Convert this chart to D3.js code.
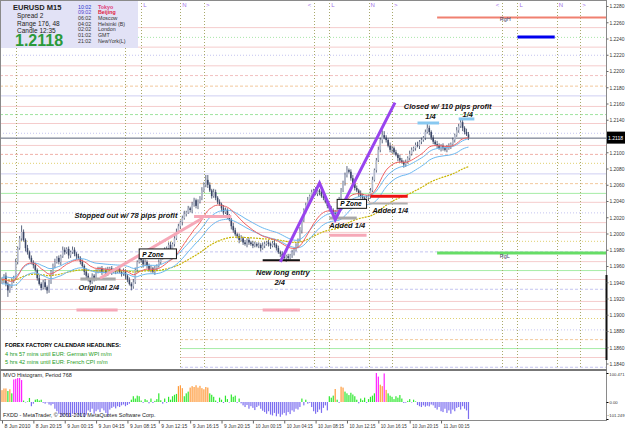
<!DOCTYPE html>
<html>
<head>
<meta charset="utf-8">
<script src="https://cdnjs.cloudflare.com/ajax/libs/d3/7.8.5/d3.min.js"></script>
<style>
  body { margin: 0; background: #fff; }
  svg { display: block; font-family: "Liberation Sans", Arial, sans-serif; }
</style>
</head>
<body>
<svg width="625" height="429"></svg>
<script>
// EURUSD M15, prices in pips (1943 -> 1.1943), one value per bar from 8 Jun 16:15
const closes = [
  1943,1948,1938,1930,1935,1943,1945, 1965,1982,1994,2002, 1992,1982,1977,1970,1965,1961,
  1955,1945,1938,1933,1940,1934,1930, 1940,1953,1960,1965,1970,1965,1972,
  1980,1977,1981,1973,1977,1980,1975,1972,1970,1965, 1960,1953,1948,1943,1940,1948,1945,1953,
  1955,1957,1953,1955,1950,1955,1957,1953,1955,1953,1957,1953,1950,1953,1948,
  1943,1938,1935,1940, 1955,1965,1970,1967,1962,1965,1960, 1955,1957,1953,1957,1960,1965,1970,
  1975,1980,1982,1986,1980,1987,1994,2002, 2009,2014,2019,2024,2026,2031,2029,
  2035,2041,2034,2039,2044,2053,2060, 2066,2060,2053, 2046,2051,2044,2039,2036,
  2031,2026,2029,2021,2017,2009,2004, 1999,1997,1992,1994,1989,1987,1992,
  1989,1987,1985,1987,1985,1986,1982,1985, 1987,1989,1987,1985,1988,1986,1982,
  1977,1975,1972,1970,1972,1970,1973,1977,1980,1985, 1992,2004,2017,2029,2035,2041,2046,
  2051,2053,2049,2053,2051,2046,2044, 2039,2034,2031,2029,2026,2024,2029,
  2041,2053,2063,2072,2078,2076, 2068,2061,2056,2053,2049,2046,2044,2041,2044,2046,
  2053,2066,2078,2090,2103,2115,2121, 2118,2115,2108,2103,2105,2100,
  2097,2093,2090,2088,2085,2088,2093, 2098,2103,2105,2109,2108,2113,2115,2118,2125,2130,
  2125,2118,2113,2110,2108,2105,2108,2105,2103,2105,2108,2110,
  2115,2121,2127,2132,2137,2130,2125,2122,2118
];
const firstOpen = 1940;
// wick lengths in pips above / below the body
const upWick = [
  3,2,4,2,3,2,3,4,2,3, 8,3,2,4,2,3,2,3,2,4, 2,3,4,2,3,2,3,4,2,3, 2,4,3,2,3,2,4,3,2,3,
  2,3,2,4,3,2,3,2,3,4, 2,3,2,3,4,2,3,2,3,2, 3,2,4,3,2,3,2,4,3,2, 3,4,2,3,2,3,4,2,3,2,
  3,2,4,3,2,3,4,2,3,4, 3,2,3,4,2,3,2,4,3,2, 3,2,4,3,6,6,3,2,4,3, 2,3,2,4,3,2,3,2,4,3,
  2,3,4,2,3,2,3,2,4,3, 2,3,2,4,3,2,3,2,3,4, 2,3,2,3,4,2,3,2,3,2, 3,2,4,3,2,3,4,2,3,2,
  4,3,2,3,2,4,3,2,3,2, 3,2,4,3,2,3,5,2,3,4, 2,3,2,4,3,2,3,2,3,4, 2,3,4,3,6,5,3,2,4,3,
  2,3,2,4,3,2,3,2,4,3, 2,3,4,2,3,2,3,7,3,2, 3,2,4,3,2,3,2,4,3,2, 3,2,4,3,4,3,2,4,3
];
const lowWick = [
  2,4,3,8,3,2,4,2,3,2, 3,2,4,3,2,3,4,2,3,2, 3,2,3,4,3,2,4,3,2,3, 4,2,3,2,4,3,2,3,4,2,
  3,2,4,3,2,3,2,4,3,2, 3,4,2,3,2,3,4,2,3,2, 2,3,2,4,3,2,5,3,2,3, 2,3,4,2,3,2,3,2,4,3,
  2,3,2,3,4,2,3,2,3,2, 2,3,4,2,3,2,3,4,2,3, 4,2,3,2,3,4,2,3,2,3, 3,2,4,3,2,3,2,4,3,2,
  3,4,2,3,2,4,3,2,3,2, 2,3,4,2,3,2,3,4,2,3, 3,2,4,3,2,5,3,2,3,4, 2,3,2,4,3,2,3,2,4,3,
  2,3,4,2,3,2,3,4,2,3, 3,5,2,3,2,4,3,2,3,2, 3,2,4,3,2,3,2,4,3,2, 2,3,2,3,4,2,3,2,3,4,
  3,2,4,3,2,4,3,2,3,2, 2,3,2,4,3,2,3,2,4,3, 3,2,3,2,4,3,2,3,2,4, 2,3,2,3,2,4,3,2,3
];
// MVO histogram, Period 768
const mvo = [
  41,47,47,38,44,30,78,80,83,83, 76,5,-3,2,14,-25,-10,8,10,5, 8,-5,-10,-3,-15,-20,-12,-40,-55,-70,
  -80,-85,-75,-80,-90,-85,-70,-75,-65,-80, -85,-70,-90,-75,-50,-60,-40,-70,-55,-45,
  -60,-38,-50,-65,-85,-45,-35,-28,-38,-25, -30,-20,-15,-25,-18,-10,8,20,12,22,
  20,5,-5,10,6,-8,12,-6,4,10, 30,6,-10,12,-5,18,8,20,25,28, 55,58,48,20,30,36,50,55,52,58,
  50,56,48,44,52,50,30,25,18,5, -4,15,8,-6,22,10,-3,26,18,22, -5,12,-8,-20,-30,-18,-40,-25,-35,-48,
  -30,-22,-40,-52,-60,-70,-55,-75,-80,-65, -85,-70,-88,-75,-65,-80,-60,-72,-50,-58,
  -40,-45,-30,12,-20,8,-10,-5,-30,-55, -70,-60,-45,-65,-35,-20,-50,20,15,22,
  45,8,-5,53,50,36,30,24,32,26, 20,8,-8,12,6,15,-5,10,18,22, 30,100.471,88,60,55,99,42,30,22,18,
  10,20,15,24,12,-6,-4,4,10,-3, 8,2,-18,-25,-30,-20,-28,-22,-26,-15,
  -20,-35,-45,-30,-55,-60,-40,-65,-50,-70, -45,-55,-35,-30,-45,-25,-40,-50,-101.249
];

const yTicks = [2280,2260,2240,2220,2200,2180,2160,2140,2100,2080,2060,2040,2020,2000,
  1980,1960,1940,1920,1900,1880,1860,1840];
const indTicks = [100.471, 0, -101.249];
const xTickTimes = [
  "2010-06-08 16:15","2010-06-08 20:15","2010-06-09 00:15","2010-06-09 04:15","2010-06-09 08:15",
  "2010-06-09 12:15","2010-06-09 16:15","2010-06-09 20:15","2010-06-10 00:15","2010-06-10 04:15",
  "2010-06-10 08:15","2010-06-10 12:15","2010-06-10 16:15","2010-06-10 20:15","2010-06-11 00:15"
];
const sessionTimes = [
  "2010-06-08 18:00","2010-06-09 08:00","2010-06-09 10:00","2010-06-09 15:00","2010-06-09 18:00",
  "2010-06-10 08:00","2010-06-10 10:00","2010-06-10 15:00","2010-06-10 18:00",
  "2010-06-11 08:00","2010-06-11 10:00","2010-06-11 15:00","2010-06-11 18:00"
];
const sessionMarks = [">","<","L","N",">","<","L","N",">","<","L","N",">"];

// horizontal levels across the chart (pips) and their kind
const levelPrices = [2254,2242,2230,2220,2207,2195,2182,2170,2157,2147,2136,2124,2109,2098,2087,2074,
  2062,2050,2039,2026,2014,2002,1991,1978,1966,1955,1944,1932,1917,1907,1896,1882,1870,1859,1848,1836];
const levelKinds = ["pink","greenDot","pink","lavDot","pink","pinkDash","orangeDash","lav","pink","greenDash",
  "pink","lavDot","pink","salmonDash","yellowDot","lav","orangeDash","green","pink","lavDot","pink","pink",
  "yellowDot","lavDash","pink","green","pink","lavDash","pink","pink","yellowDot","lavDot","orangeDash",
  "green","pink","lavDash"];

const lastPrice = 2118;

const levelStyle = {
  pink: ["#f5cccc", null], pinkDash: ["#f2c0c0", "3,2"], green: ["#a6eca6", null],
  greenDot: ["#a8e6a8", "1,2"], greenDash: ["#a0e4a0", "3,2"], lav: ["#cfcff2", null],
  lavDot: ["#c4c4f0", "1,2"], lavDash: ["#c4c4f0", "3,2"], orangeDash: ["#f2c89c", "3,2"],
  salmonDash: ["#f0b0a8", "3,2"], yellowDot: ["#e0d070", "1,2"]
};

const svg = d3.select("svg");
const plotR = 606, mainB = 369, indB = 420;
const parse = d3.timeParse("%Y-%m-%d %H:%M");

const x = d3.scaleLinear().domain([0, 1]).range([2, 3.96]);
const xt = d3.scaleTime().domain([parse("2010-06-08 16:15"), parse("2010-06-08 16:30")]).range([2, 3.96]);
const y = d3.scaleLinear().domain([1840, 2280]).range([363.5, 6]);
const yInd = d3.scaleLinear().domain([-101.249, 0, 100.471]).range([419, 402, 373]);
const histColor = d3.scaleThreshold().domain([0, 40, 75]).range(["#7d6ff0", "#2ee82e", "#ff9a3a", "#ff22ff"]);

svg.append("rect").attr("width", 625).attr("height", 429).attr("fill", "#fff");

svg.append("clipPath").attr("id", "mainClip").append("rect")
  .attr("x", 0).attr("y", 0).attr("width", plotR).attr("height", mainB);
const main = svg.append("g").attr("clip-path", "url(#mainClip)");

// levels
main.selectAll("line.level").data(levelPrices).join("line")
  .attr("x1", 0).attr("x2", plotR)
  .attr("y1", d => y(d) + 0.5).attr("y2", d => y(d) + 0.5)
  .attr("stroke", (d, i) => levelStyle[levelKinds[i]][0])
  .attr("stroke-dasharray", (d, i) => levelStyle[levelKinds[i]][1]);

// session separators
const sess = sessionTimes.map(parse);
main.selectAll("line.sess").data(sess).join("line")
  .attr("x1", d => Math.round(xt(d)) + 0.5).attr("x2", d => Math.round(xt(d)) + 0.5)
  .attr("y1", 0).attr("y2", mainB)
  .attr("stroke", "#a8a86a").attr("stroke-dasharray", "1,2");
main.selectAll("text.sess").data(sess.filter(d => xt(d) > 140)).join("text")
  .attr("x", d => xt(d) + (sessionMarks[sess.indexOf(d)] === "<" ? -6 : 2)).attr("y", 7)
  .attr("font-size", 6).attr("fill", "#a070e8")
  .text(d => sessionMarks[sess.indexOf(d)]);

// current price line
main.append("line").attr("x1", 0).attr("x2", plotR)
  .attr("y1", y(lastPrice) + 0.5).attr("y2", y(lastPrice) + 0.5)
  .attr("stroke", "#5a6478");

// candles
const opens = closes.map((c, i) => i ? closes[i - 1] : firstOpen);
const highs = closes.map((c, i) => Math.max(c, opens[i]) + upWick[i]);
const lows = closes.map((c, i) => Math.min(c, opens[i]) - lowWick[i]);

const candles = main.append("g");
candles.selectAll("line").data(closes).join("line")
  .attr("x1", (d, i) => x(i)).attr("x2", (d, i) => x(i))
  .attr("y1", (d, i) => y(highs[i])).attr("y2", (d, i) => y(lows[i]))
  .attr("stroke", "#33405e").attr("stroke-width", 0.8);
candles.selectAll("rect").data(closes).join("rect")
  .attr("x", (d, i) => x(i) - 0.8).attr("width", 1.6)
  .attr("y", (d, i) => y(Math.max(d, opens[i])))
  .attr("height", (d, i) => Math.max(0.8, y(Math.min(d, opens[i])) - y(Math.max(d, opens[i]))))
  .attr("fill", (d, i) => d >= opens[i] ? "#b4bacb" : "#3a4666");

// moving averages
function ema(arr, n) {
  const k = 2 / (n + 1);
  let e = arr[0];
  return arr.map(v => (e = e + k * (v - e)));
}
const line = d3.line().x((d, i) => x(i)).y(d => y(d));
main.append("path").attr("d", line(ema(closes, 89))).attr("fill", "none")
  .attr("stroke", "#c8b400").attr("stroke-width", 1.2).attr("stroke-dasharray", "2,1");
main.append("path").attr("d", line(ema(highs, 34))).attr("fill", "none").attr("stroke", "#6cb8f0");
main.append("path").attr("d", line(ema(lows, 34))).attr("fill", "none").attr("stroke", "#6cb8f0");
main.append("path").attr("d", line(ema(closes, 21))).attr("fill", "none").attr("stroke", "#f06060");

// drawn trade objects: [startBar, endBar, price, colour, width]
const segs = [
  [40, 58, 1944, "#a8a8a8", 3], [38, 59, 1906, "#f6a8b8", 3], [133, 152, 1906, "#f6a8b8", 3],
  [167, 186, 1998, "#f6a8b8", 3], [98, 117, 2021, "#f6a8b8", 3], [167, 181, 2019, "#a8a8a8", 3],
  [187, 207, 2037, "#b0b0b0", 2], [133, 152, 1967, "#111", 2], [188, 207, 2046, "#ee1111", 3],
  [212, 223, 2136, "#88c8f0", 3], [233, 241, 2141, "#88c8f0", 3], [263, 282, 2242, "#0000ee", 3],
  [222, 310, 2266, "#f08070", 2], [222, 310, 1976, "#66dd66", 3]
];
main.selectAll("line.seg").data(segs).join("line")
  .attr("x1", d => x(d[0])).attr("x2", d => x(d[1]))
  .attr("y1", d => y(d[2])).attr("y2", d => y(d[2]))
  .attr("stroke", d => d[3]).attr("stroke-width", d => d[4]);

main.append("line").attr("x1", x(50)).attr("y1", y(1945)).attr("x2", x(102.5)).attr("y2", y(2019))
  .attr("stroke", "#f6a8b8").attr("stroke-width", 3);

const zig = [[142, 1965], [162, 2062], [170, 2017], [200.5, 2161]];
main.append("path").attr("d", d3.line().x(d => x(d[0])).y(d => y(d[1]))(zig))
  .attr("fill", "none").attr("stroke", "#9944ee").attr("stroke-width", 3);

// P Zone boxes: [startBar, endBar, topPrice, bottomPrice]
const zones = [[70, 89, 1981, 1969], [171, 186, 2042, 2031]];
const zg = main.selectAll("g.zone").data(zones).join("g");
zg.append("rect").attr("x", d => x(d[0])).attr("y", d => y(d[2]))
  .attr("width", d => x(d[1]) - x(d[0])).attr("height", d => y(d[3]) - y(d[2]))
  .attr("fill", "#fff").attr("stroke", "#111").attr("stroke-width", 1);
zg.append("text").attr("x", d => x(d[0]) + 3).attr("y", d => y(d[3]) - 2)
  .attr("font-size", 6.5).attr("font-weight", "bold").attr("font-style", "italic").text("P Zone");

main.selectAll("text.tag").data([["RgH", 254, 2262], ["RgL", 254, 1970]]).join("text")
  .attr("x", d => x(d[1])).attr("y", d => y(d[2])).attr("font-size", 5.5).attr("fill", "#446")
  .text(d => d[0]);

// notes: [text, bar, price]
const notes = [
  ["Stopped out w/ 78 pips profit", 37, 2019], ["Original 2/4", 39, 1930],
  ["New long entry", 129.6, 1949], ["2/4", 139, 1937], ["Added 1/4", 167, 2007],
  ["Added 1/4", 189, 2025], ["Closed w/ 110 pips profit", 205, 2153], ["1/4", 216, 2141], ["1/4", 235, 2143]
];
main.selectAll("text.note").data(notes).join("text")
  .attr("x", d => x(d[1])).attr("y", d => y(d[2]))
  .attr("font-size", 7.5).attr("font-weight", "bold").attr("font-style", "italic").attr("fill", "#111")
  .text(d => d[0]);

// info panel
svg.append("rect").attr("x", 0).attr("y", 0).attr("width", 138).attr("height", 48).attr("fill", "#e2e2f6");
const info = svg.append("g").attr("font-size", 6.5).attr("fill", "#222");
info.append("text").attr("x", 13).attr("y", 10).attr("font-weight", "bold").attr("font-size", 7.5).text("EURUSD   M15");
info.append("text").attr("x", 17).attr("y", 18).text("Spread   2");
info.append("text").attr("x", 17).attr("y", 25.5).text("Range    176, 48");
info.append("text").attr("x", 17).attr("y", 32.5).text("Candle   12:35");
info.append("text").attr("x", 15).attr("y", 46).attr("font-weight", "bold").attr("font-size", 16)
  .attr("fill", "#2a9a3a").text("1.2118");
const clocks = [["10:02", "Tokyo", "#2233cc", "#e0407a"], ["09:02", "Beijing", "#5544cc", "#e02040"],
  ["06:02", "Moscow", "#333", "#333"], ["04:02", "Helsinki (B)", "#333", "#333"], ["02:02", "London", "#333", "#333"],
  ["01:02", "GMT", "#333", "#333"], ["21:02", "NewYork(L)", "#333", "#333"]];
clocks.forEach((z, i) => {
  info.append("text").attr("x", 78).attr("y", 8.5 + i * 5.7).attr("font-size", 5.3).attr("fill", z[2]).text(z[0]);
  info.append("text").attr("x", 98).attr("y", 8.5 + i * 5.7).attr("font-size", 5.3).attr("fill", z[3])
    .attr("font-weight", i < 2 ? "bold" : "normal").text(z[1]);
});

// calendar headlines box
svg.append("rect").attr("x", 0).attr("y", 338).attr("width", 180).attr("height", 31).attr("fill", "#fff");
svg.append("text").attr("x", 5).attr("y", 347).attr("font-size", 5.6).attr("font-weight", "bold")
  .text("FOREX FACTORY CALENDAR  HEADLINES:");
svg.append("text").attr("x", 5).attr("y", 356).attr("font-size", 5.6).attr("fill", "#1a9a1a")
  .text("4 hrs 57 mins until EUR: German WPI m/m");
svg.append("text").attr("x", 5).attr("y", 364).attr("font-size", 5.6).attr("fill", "#1a9a1a")
  .text("5 hrs 42 mins until EUR: French CPI m/m");

// histogram
svg.selectAll("rect.h").data(mvo).join("rect")
  .attr("x", (d, i) => x(i) - 0.6).attr("width", 1.2)
  .attr("y", d => Math.min(yInd(d), yInd(0)))
  .attr("height", d => Math.abs(yInd(d) - yInd(0)))
  .attr("fill", d => histColor(d));
svg.append("text").attr("x", 3).attr("y", 377).attr("font-size", 5.5).attr("fill", "#222")
  .text("MVO Histogram, Period 768");
svg.append("text").attr("x", 3).attr("y", 417).attr("font-size", 5.5).attr("fill", "#222")
  .text("FXDD - MetaTrader, \u00a9 2001-2010 MetaQuotes Software Corp.");

// frames
svg.append("rect").attr("x", 0.5).attr("y", 0.5).attr("width", plotR).attr("height", indB)
  .attr("fill", "none").attr("stroke", "#8a8a8a");
svg.append("rect").attr("x", 0).attr("y", mainB).attr("width", plotR + 1).attr("height", 2).attr("fill", "#777");
svg.append("rect").attr("x", plotR - 0.5).attr("y", 275).attr("width", 2).attr("height", 85).attr("fill", "#111");

// price axis
const yAxis = d3.axisRight(y).tickValues(yTicks).tickSize(2)
  .tickFormat(d => (1 + d / 10000).toFixed(4));
const ya = svg.append("g").attr("transform", `translate(${plotR + 0.5},0)`).call(yAxis);
ya.select(".domain").remove();
ya.selectAll("text").attr("font-size", 5.5).attr("fill", "#333").attr("x", 3)
  .attr("textLength", 15).attr("lengthAdjust", "spacingAndGlyphs");
ya.selectAll("line").attr("stroke", "#666");

svg.append("rect").attr("x", plotR + 1).attr("y", y(lastPrice) - 6).attr("width", 18).attr("height", 12).attr("fill", "#000");
svg.append("text").attr("x", plotR + 2).attr("y", y(lastPrice) + 2).attr("font-size", 5.5).attr("fill", "#fff")
  .attr("textLength", 15).attr("lengthAdjust", "spacingAndGlyphs")
  .text((1 + lastPrice / 10000).toFixed(4));

// indicator axis
const indAxis = d3.axisRight(yInd).tickValues(indTicks).tickSize(2)
  .tickFormat(d => d === 0 ? "0.00" : d3.format(".3f")(d));
const ia = svg.append("g").attr("transform", `translate(${plotR + 0.5},0)`).call(indAxis);
ia.select(".domain").remove();
ia.selectAll("text").attr("font-size", 4.2).attr("fill", "#333")
  .attr("text-anchor", (d) => d === 0 ? "start" : "end").attr("x", (d) => d === 0 ? 3 : 18)
  .attr("dy", (d) => d > 0 ? "0.7em" : d < 0 ? "-0.6em" : "0.32em");

// time axis
const fmtFirst = d3.timeFormat("%-d %b %Y"), fmt = d3.timeFormat("%-d %b %H:%M");
const xAxis = d3.axisBottom(xt).tickValues(xTickTimes.map(parse)).tickSize(3)
  .tickFormat((d, i) => i ? fmt(d) : fmtFirst(d));
const xa = svg.append("g").attr("transform", `translate(0,${indB + 0.5})`).call(xAxis);
xa.select(".domain").remove();
xa.selectAll("text").attr("font-size", 5.2).attr("fill", "#333").attr("text-anchor", "start")
  .attr("dx", 2).attr("y", 4).attr("textLength", 26).attr("lengthAdjust", "spacingAndGlyphs");
xa.selectAll("line").attr("stroke", "#666");
</script>
</body>
</html>
